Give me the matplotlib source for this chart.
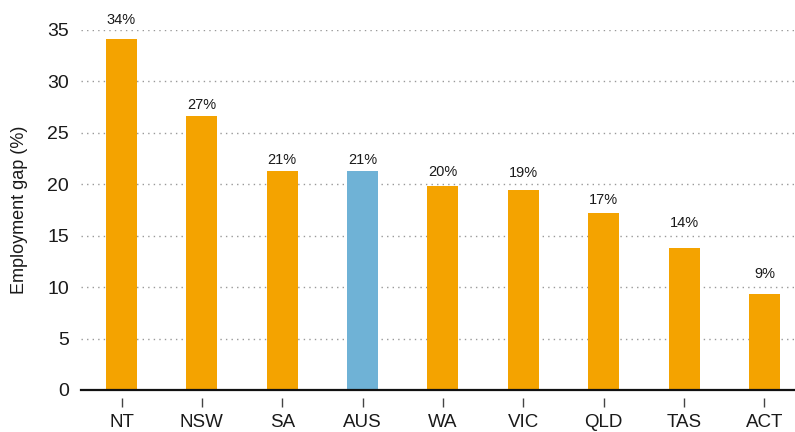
import matplotlib
matplotlib.use("Agg")
import matplotlib.pyplot as plt
from matplotlib.transforms import blended_transform_factory, offset_copy

categories = ["NT", "NSW", "SA", "AUS", "WA", "VIC", "QLD", "TAS", "ACT"]
values = [34.1, 26.6, 21.3, 21.3, 19.8, 19.4, 17.2, 13.8, 9.35]
labels = ["34%", "27%", "21%", "21%", "20%", "19%", "17%", "14%", "9%"]
highlight = "AUS"
y_ticks = [0, 5, 10, 15, 20, 25, 30, 35]
label_pad_px = [12, 4, 4, 4, 7, 10, 6, 18, 13]

ORANGE = "#F4A300"
BLUE = "#6FB2D6"
TEXT = "#1a1a1a"

plt.rcParams['font.family'] = ['Liberation Sans', 'DejaVu Sans']

W, H = 795, 432
fig = plt.figure(figsize=(W / 100, H / 100), dpi=100)
ax = fig.add_axes([81 / W, (H - 390) / H, (W - 81) / W, 360.3 / H])

x = list(range(len(categories)))
colors = [BLUE if c == highlight else ORANGE for c in categories]
ax.bar(x, values, width=0.386, color=colors, zorder=3)

ax.set_xlim(-0.504, 8.38)
ax.set_ylim(0, 35)

for s in ["top", "right", "left"]:
    ax.spines[s].set_visible(False)
ax.spines["bottom"].set_color("#111111")
ax.spines["bottom"].set_linewidth(1.6)
ax.spines["bottom"].set_zorder(4)

ax.set_yticks(y_ticks)
ax.set_yticklabels([str(t) for t in y_ticks])
ax.tick_params(axis="y", length=0, pad=8.6, labelsize=14, labelcolor=TEXT)
ax.yaxis.grid(True, linestyle=(0, (1, 3)), color="#999999", linewidth=1.0, zorder=0)
ax.set_axisbelow(True)

ax.set_xticks(x)
ax.set_xticklabels(categories)
ax.tick_params(axis="x", length=0, pad=17.5, labelsize=13.5, labelcolor=TEXT)

# tick marks detached from the axis line
trans = blended_transform_factory(ax.transData, ax.transAxes)
ax.vlines(x, -8 / 360.3, -17 / 360.3, transform=trans, color="#444444",
          linewidth=1.0, clip_on=False)

for xi, v, lab, pad in zip(x, values, labels, label_pad_px):
    t = offset_copy(ax.transData, fig=fig, x=0, y=pad * 72 / 100, units="points")
    ax.text(xi, v, lab, transform=t, ha="center", va="bottom",
            fontsize=10.5, color=TEXT, clip_on=False)

ax.set_ylabel("Employment gap (%)", fontsize=13, color=TEXT)
ax.yaxis.set_label_coords(-(81 - 28) / (W - 81), 0.5)

fig.savefig("out.png", dpi=100)
